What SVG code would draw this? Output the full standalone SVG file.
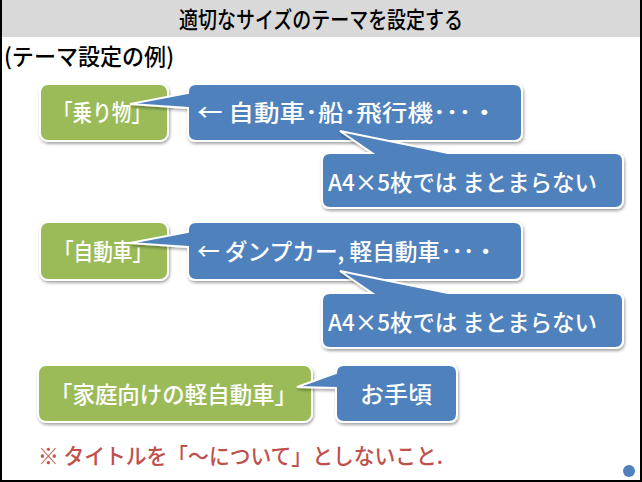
<svg xmlns="http://www.w3.org/2000/svg" width="642" height="482" viewBox="0 0 642 482">
<style>
text{font-family:"Noto Sans CJK JP","Noto Sans",sans-serif}
.w{fill:#fff;font-size:23px;font-weight:500}
.g{fill:#9bbb59;stroke:#fff;stroke-width:2;filter:url(#sh)}
.b{fill:#4f81bd;stroke:#fff;stroke-width:2;filter:url(#sh)}
</style>
<defs>
<filter id="sh" x="-10%" y="-20%" width="130%" height="150%">
<feDropShadow dx="1" dy="2" stdDeviation="1.5" flood-color="#000" flood-opacity="0.35"/>
</filter>
</defs>
<rect x="0" y="0" width="642" height="482" fill="#fff"/>
<rect x="0" y="0" width="642" height="37" fill="#d9d9d9"/>
<path d="M1,0 V481 H641 V0" fill="none" stroke="#000" stroke-width="2"/>
<text x="260" y="28" text-anchor="middle" font-size="23" font-weight="500" fill="#000" textLength="284" lengthAdjust="spacingAndGlyphs" transform="translate(61,0)">適切なサイズのテーマを設定する</text>
<text x="4" y="65" font-size="23" font-weight="500" fill="#000" textLength="170" lengthAdjust="spacingAndGlyphs">(テーマ設定の例)</text>

<g id="connectors"></g>

<g id="n1">
<rect class="g" x="40" y="84" width="128" height="57" rx="8"/>
<text class="w" x="53" y="121" textLength="98" lengthAdjust="spacingAndGlyphs">「乗り物」</text>
</g>
<g id="c1">
<path class="b" d="M196,84 H514 Q522,84 522,92 V133 Q522,141 514,141 H196 Q188,141 188,133 V108 L130,104 L188,93 V92 Q188,84 196,84 Z"/>
<text class="w" x="197" y="121" textLength="300" lengthAdjust="spacingAndGlyphs">← 自動車･船･飛行機･･･・</text>
</g>
<g id="c2">
<path class="b" d="M330,153 H372 L340,131 L448,153 H615 Q623,153 623,161 V200 Q623,208 615,208 H330 Q322,208 322,200 V161 Q322,153 330,153 Z"/>
<text class="w" x="328" y="191" font-size="22" textLength="269" lengthAdjust="spacingAndGlyphs">A4×5枚では まとまらない</text>
</g>

<g id="n2">
<rect class="g" x="40" y="222" width="128" height="58" rx="8"/>
<text class="w" x="54" y="260" textLength="98" lengthAdjust="spacingAndGlyphs">「自動車」</text>
</g>
<g id="c3">
<path class="b" d="M196,222 H514 Q522,222 522,230 V272 Q522,280 514,280 H196 Q188,280 188,272 V247 L130,243 L188,232 V230 Q188,222 196,222 Z"/>
<text class="w" x="197" y="260" textLength="300" lengthAdjust="spacingAndGlyphs">← ダンプカー, 軽自動車･･･・</text>
</g>
<g id="c4">
<path class="b" d="M330,293 H372 L340,271 L448,293 H615 Q623,293 623,301 V340 Q623,348 615,348 H330 Q322,348 322,340 V301 Q322,293 330,293 Z"/>
<text class="w" x="328" y="331" font-size="22" textLength="269" lengthAdjust="spacingAndGlyphs">A4×5枚では まとまらない</text>
</g>

<g id="n3">
<rect class="g" x="38" y="365" width="274" height="57" rx="8"/>
<text class="w" x="50" y="403" textLength="247" lengthAdjust="spacingAndGlyphs">「家庭向けの軽自動車」</text>
</g>
<g id="c5">
<path class="b" d="M344,365 H449 Q457,365 457,373 V414 Q457,422 449,422 H344 Q336,422 336,414 V388 L297,387 L336,373 Q336,365 344,365 Z"/>
<text class="w" x="396" y="403" text-anchor="middle" textLength="72" lengthAdjust="spacingAndGlyphs">お手頃</text>
</g>

<text x="38" y="464" font-size="22" font-weight="500" fill="#c0504d" textLength="405" lengthAdjust="spacingAndGlyphs">※ タイトルを「～について」としないこと.</text>
<circle cx="629" cy="471" r="6" fill="#4f81bd"/>
</svg>
